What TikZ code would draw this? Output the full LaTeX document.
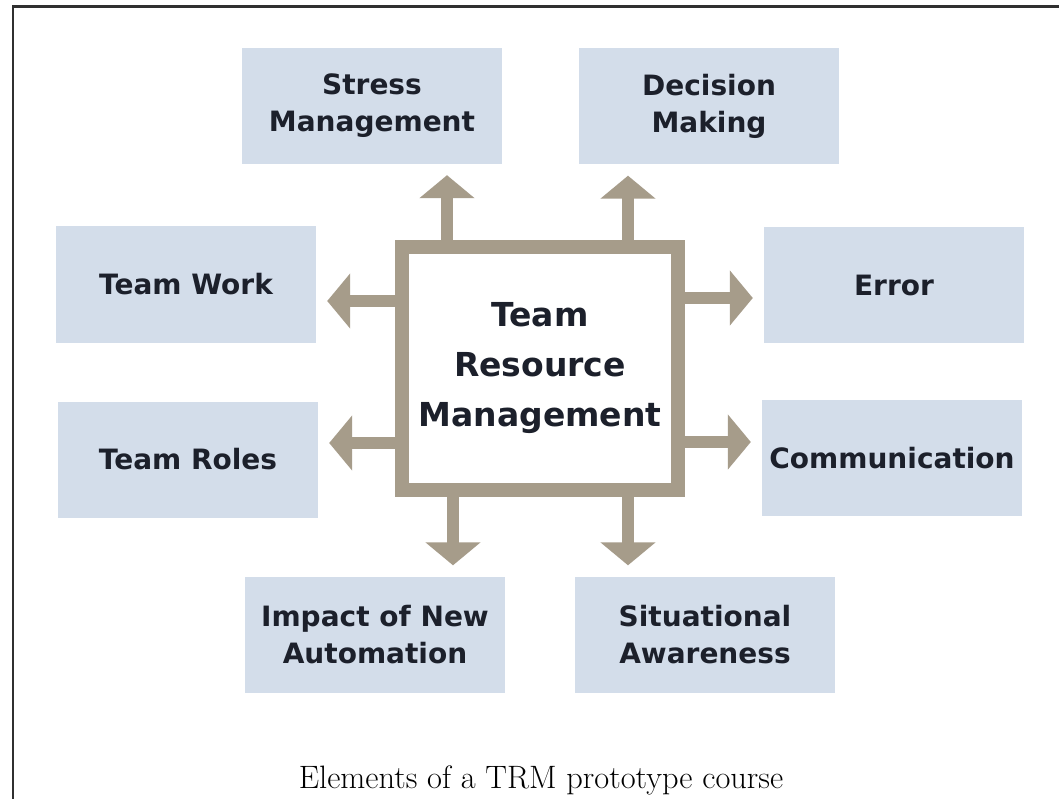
\documentclass[tikz,border=0pt]{standalone}
\usepackage{fontspec}
\newfontfamily\boxfont{DejaVu Sans}
\usetikzlibrary{arrows.meta}
\definecolor{boxblue}{HTML}{D3DDEA}
\definecolor{arrowtan}{HTML}{A69C8A}
\definecolor{ink}{HTML}{1C202B}
\definecolor{framegray}{HTML}{303030}
\begin{document}
\begin{tikzpicture}[x=1pt,y=-1pt,
  topic/.style={fill=boxblue, minimum width=260pt, minimum height=116pt, inner sep=0pt,
    align=center, text=ink, font=\boxfont\bfseries\fontsize{28}{37}\selectfont},
  hub/.style={draw=arrowtan, line width=14pt, fill=white, minimum width=276pt,
    minimum height=243pt, inner sep=0pt, align=center, text=ink,
    font=\boxfont\bfseries\fontsize{33}{50}\selectfont},
  link/.style={draw=arrowtan, line width=12pt, -{Triangle[length=23pt,width=54pt]}, shorten >=11pt}
]
\fill[white] (0,0) rectangle (1059,799);
\useasboundingbox (0,0) rectangle (1059,799);
\draw[framegray, line width=2.5pt] (13,799) -- (13,6.5) -- (1059,6.5);

\node[hub] (trm) at (540,368.5) {Team\\Resource\\Management};

\node[topic] (stress) at (372,106) {Stress\\Management};
\node[topic] (decision) at (709,106.5) {Decision\\Making};
\node[topic] (teamwork) at (186,284.5) {Team Work};
\node[topic] (error) at (894,285) {Error};
\node[topic] (teamroles) at (188,459.5) {Team Roles};
\node[topic] (comm) at (892,458) {Communication};
\node[topic] (impact) at (375,634.5) {Impact of New\\Automation};
\node[topic] (situ) at (705,634.5) {Situational\\Awareness};

\coordinate (xs) at (447,0);
\coordinate (xd) at (628,0);
\coordinate (yw) at (0,301);
\coordinate (yr) at (0,443);
\coordinate (ye) at (0,298);
\coordinate (yc) at (0,442);
\coordinate (xi) at (453,0);
\coordinate (xa) at (628,0);

\draw[link] (trm.north -| xs) -- (stress.south -| xs);
\draw[link] (trm.north -| xd) -- (decision.south -| xd);
\draw[link] (trm.west |- yw) -- (teamwork.east |- yw);
\draw[link] (trm.west |- yr) -- (teamroles.east |- yr);
\draw[link] (trm.east |- ye) -- (error.west |- ye);
\draw[link] (trm.east |- yc) -- (comm.west |- yc);
\draw[link] (trm.south -| xi) -- (impact.north -| xi);
\draw[link] (trm.south -| xa) -- (situ.north -| xa);

\node[anchor=base, font=\fontsize{32.4}{40}\selectfont, text=black] (cap) at (541,788) {Elements of a TRM prototype course};
\end{tikzpicture}
\end{document}
